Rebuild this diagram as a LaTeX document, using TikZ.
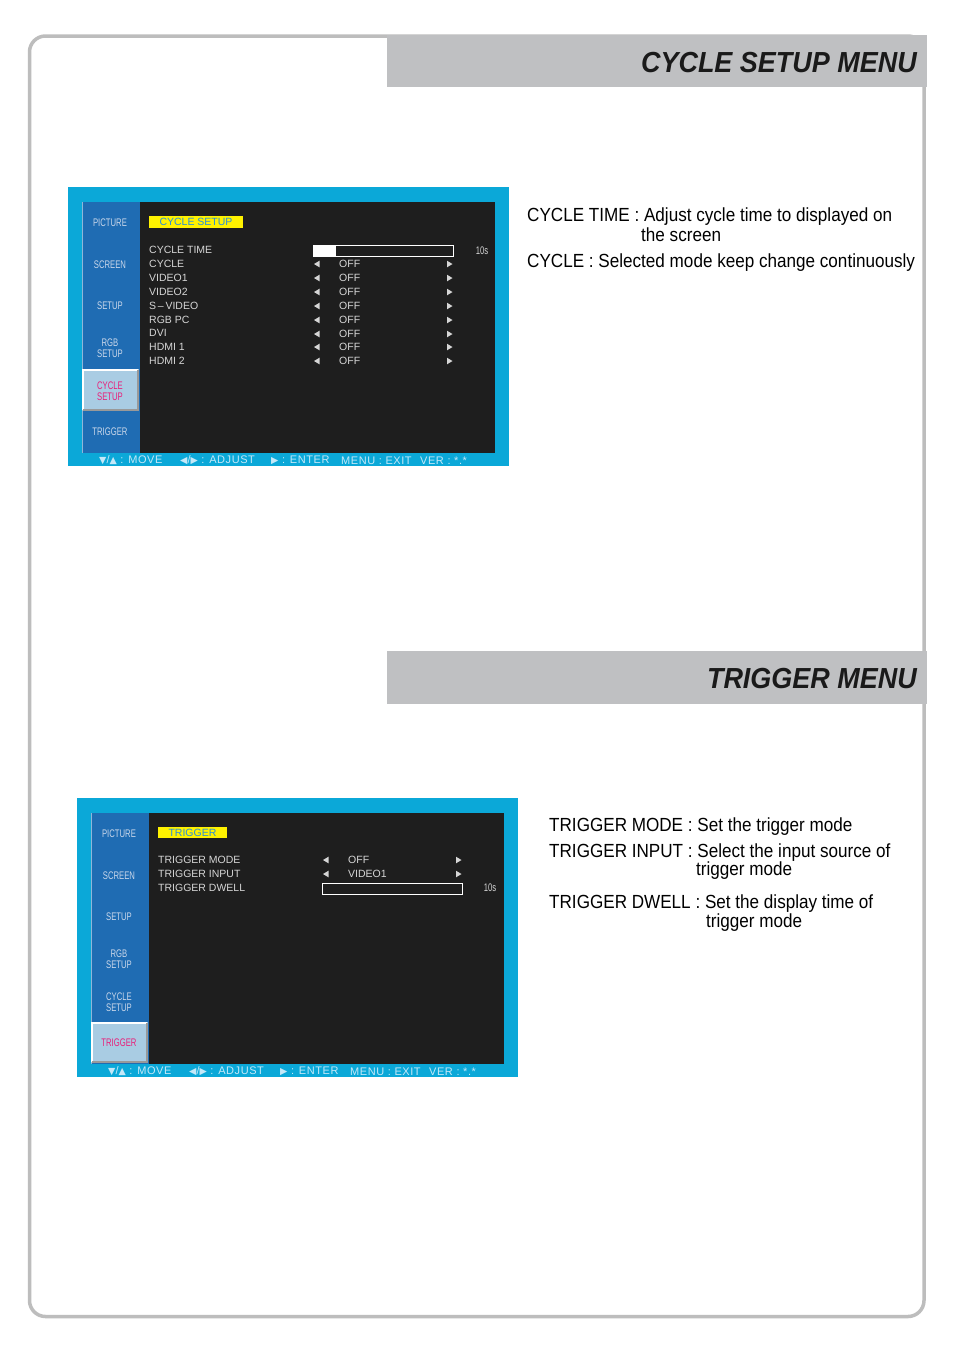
\documentclass[tikz,border=0pt]{standalone}
\usepackage{fontspec}
\setmainfont{Liberation Sans}
\newfontfamily\famBody[FakeStretch=0.9]{Liberation Sans}
\newfontfamily\famHead[FakeStretch=0.93]{Liberation Sans}
\newfontfamily\famOsd{Liberation Sans}
\newfontfamily\famFoot[LetterSpace=5]{Liberation Sans}
\newfontfamily\famSide[FakeStretch=0.7]{Liberation Sans}
\newfontfamily\famSym{DejaVu Sans}
\newcommand\fBody{\famBody\fontsize{19}{21}\selectfont}
\newcommand\fHead{\famHead\fontsize{29}{30}\selectfont\bfseries\itshape}
\newcommand\fOsd{\famOsd\fontsize{10.5}{11}\selectfont}
\newcommand\fFoot{\famFoot\fontsize{11}{11}\selectfont}
\newcommand\fSide{\famSide\fontsize{11}{11}\selectfont}
\newcommand\fSym{\famSym\fontsize{9.5}{9.5}\selectfont}
\definecolor{framegray}{HTML}{BDBDBD}
\definecolor{headgray}{HTML}{BFC0C2}
\definecolor{headink}{HTML}{1A1A1A}
\definecolor{osdcyan}{HTML}{0BA8D8}
\definecolor{osdblue}{HTML}{1F6CB3}
\definecolor{osddark}{HTML}{1E1E1E}
\definecolor{osdsel}{HTML}{A9CCE3}
\definecolor{osdtext}{HTML}{D6D6D6}
\definecolor{sidetext}{HTML}{C9D7EA}
\definecolor{foottext}{HTML}{C4E8F8}
\definecolor{selmag}{HTML}{E8207A}
\definecolor{titleblue}{HTML}{2A8FD8}
\definecolor{osdyellow}{HTML}{FFF200}
\begin{document}
\begin{tikzpicture}[x=1pt,y=-1pt,
  sidelbl/.style={font=\fSide, text=sidetext, align=center, inner sep=0pt},
  sellbl/.style={font=\fSide, text=selmag, align=center, inner sep=0pt},
  menulbl/.style={font=\fOsd, text=osdtext, anchor=west, inner sep=0pt},
  footlbl/.style={font=\fFoot, text=foottext, anchor=west, inner sep=0pt},
  titlelbl/.style={font=\fOsd, text=titleblue, inner sep=0pt},
  bodytxt/.style={font=\fBody, text=black, anchor=base west, inner sep=0pt},
  headtxt/.style={font=\fHead, text=headink, anchor=base east, inner sep=0pt},
]
\useasboundingbox (0,0) rectangle (954,1350);
\fill[white] (0,0) rectangle (954,1350);
% page frame
\draw[framegray, line width=3.5pt, rounded corners=16pt] (29.5,36) rectangle (924,1316.5);
% headers
\fill[headgray] (387,35) rectangle (927,87);
\node[headtxt] (h1) at (917,72) {CYCLE SETUP MENU};
\fill[headgray] (387,651) rectangle (927,704);
\node[headtxt] (h2) at (917,688) {TRIGGER MENU};

% body text, cycle
\node[bodytxt] (c1) at (527,221) {CYCLE TIME : Adjust cycle time to displayed on};
\node[bodytxt] (c2) at (641,241) {the screen};
\node[bodytxt] (c3) at (527,267) {CYCLE : Selected mode keep change continuously};
% body text, trigger
\node[bodytxt] (t1) at (549,831) {TRIGGER MODE : Set the trigger mode};
\node[bodytxt] (t2) at (549,857) {TRIGGER INPUT : Select the input source of};
\node[bodytxt] (t3) at (696,875) {trigger mode};
\node[bodytxt] (t4) at (549,908) {TRIGGER DWELL : Set the display time of};
\node[bodytxt] (t5) at (706,927) {trigger mode};

% ===== Screen 1 =====
\begin{scope}
\fill[osdcyan] (68,187) rectangle (509,466);
\fill[osdblue] (82,202) rectangle (140,453);
\fill[osddark] (140,202) rectangle (495,453);
\draw[osdblue!50!white, line width=0.8pt] (82.4,202) -- (82.4,453);
\fill[osdsel] (82,369) rectangle (139,411);
\draw[white, line width=1.6pt] (83,410) -- (83,370) -- (138,370);
\draw[gray!80, line width=1.6pt] (138,370) -- (138,410) -- (83,410);
\node[sidelbl] (a-pic) at (110,223) {PICTURE};
\node[sidelbl] (a-scr) at (110,265) {SCREEN};
\node[sidelbl] (a-set) at (110,306) {SETUP};
\node[sidelbl] (a-rgb) at (110,348) {RGB\\SETUP};
\node[sellbl] (a-cyc) at (110,391) {CYCLE\\SETUP};
\node[sidelbl] (a-trg) at (110,432) {TRIGGER};
\fill[osdyellow] (149,216) rectangle (243,228);
\node[titlelbl] (a-title) at (196,222) {CYCLE SETUP};
\node[menulbl] (a-m1) at (149,250) {CYCLE TIME};
\node[menulbl] (a-m2) at (149,264) {CYCLE};
\node[menulbl] (a-m3) at (149,278) {VIDEO1};
\node[menulbl] (a-m4) at (149,292) {VIDEO2};
\node[menulbl] (a-m5) at (149,306) {S\,\textendash\,VIDEO};
\node[menulbl] (a-m6) at (149,320) {RGB PC};
\node[menulbl] (a-m7) at (149,333) {DVI};
\node[menulbl] (a-m8) at (149,347) {HDMI 1};
\node[menulbl] (a-m9) at (149,361) {HDMI 2};
\draw[white, line width=1pt] (313.5,245.5) rectangle (453.5,256);
\fill[white] (313.5,245.5) rectangle (336,256);
\node[sidelbl, text=osdtext] (a-10s) at (482,250.5) {10s};
\foreach \yy/\nm in {264/2,278/3,292/4,306/5,320/6,334/7,347/8,361/9}{
  \fill[osdtext] (319.5,\yy-3.3) -- (314,\yy) -- (319.5,\yy+3.3) -- cycle;
  \fill[osdtext] (447,\yy-3.3) -- (452.5,\yy) -- (447,\yy+3.3) -- cycle;
  \node[menulbl] (a-v\nm) at (339,\yy) {OFF};
}
\node[footlbl] (a-f1) at (99,460.5) {{\fSym ▼}/{\fSym ▲} : MOVE};
\node[footlbl] (a-f2) at (180,460.5) {{\fSym ◀}/{\fSym ▶} : ADJUST};
\node[footlbl] (a-f3) at (271,460.5) {{\fSym ▶} : ENTER};
\node[footlbl] (a-f4) at (341,460.5) {MENU : EXIT};
\node[footlbl] (a-f5) at (420,460.5) {VER : *.*};
\end{scope}

% ===== Screen 2 =====
\begin{scope}[shift={(9,611)}]
\fill[osdcyan] (68,187) rectangle (509,466);
\fill[osdblue] (82,202) rectangle (140,453);
\fill[osddark] (140,202) rectangle (495,453);
\draw[osdblue!50!white, line width=0.8pt] (82.4,202) -- (82.4,453);
\fill[osdsel] (82,411) rectangle (139,452);
\draw[white, line width=1.6pt] (83,451) -- (83,412) -- (138,412);
\draw[gray!80, line width=1.6pt] (138,412) -- (138,451) -- (83,451);
\node[sidelbl] (b-pic) at (110,223) {PICTURE};
\node[sidelbl] (b-scr) at (110,265) {SCREEN};
\node[sidelbl] (b-set) at (110,306) {SETUP};
\node[sidelbl] (b-rgb) at (110,348) {RGB\\SETUP};
\node[sidelbl] (b-cyc) at (110,391) {CYCLE\\SETUP};
\node[sellbl] (b-trg) at (110,432) {TRIGGER};
\fill[osdyellow] (149,216) rectangle (218,227);
\node[titlelbl] (b-title) at (183.5,221.5) {TRIGGER};
\node[menulbl] (b-m1) at (149,249) {TRIGGER MODE};
\node[menulbl] (b-m2) at (149,263) {TRIGGER INPUT};
\node[menulbl] (b-m3) at (149,277) {TRIGGER DWELL};
\foreach \yy/\nm/\vv in {249/1/OFF,263/2/VIDEO1}{
  \fill[osdtext] (319.5,\yy-3.3) -- (314,\yy) -- (319.5,\yy+3.3) -- cycle;
  \fill[osdtext] (447,\yy-3.3) -- (452.5,\yy) -- (447,\yy+3.3) -- cycle;
  \node[menulbl] (b-v\nm) at (339,\yy) {\vv};
}
\draw[white, line width=1pt] (313.5,272) rectangle (453.5,283);
\node[sidelbl, text=osdtext] (b-10s) at (481,277) {10s};
\node[footlbl] (b-f1) at (99,460.5) {{\fSym ▼}/{\fSym ▲} : MOVE};
\node[footlbl] (b-f2) at (180,460.5) {{\fSym ◀}/{\fSym ▶} : ADJUST};
\node[footlbl] (b-f3) at (271,460.5) {{\fSym ▶} : ENTER};
\node[footlbl] (b-f4) at (341,460.5) {MENU : EXIT};
\node[footlbl] (b-f5) at (420,460.5) {VER : *.*};
\end{scope}
\end{tikzpicture}
\end{document}
